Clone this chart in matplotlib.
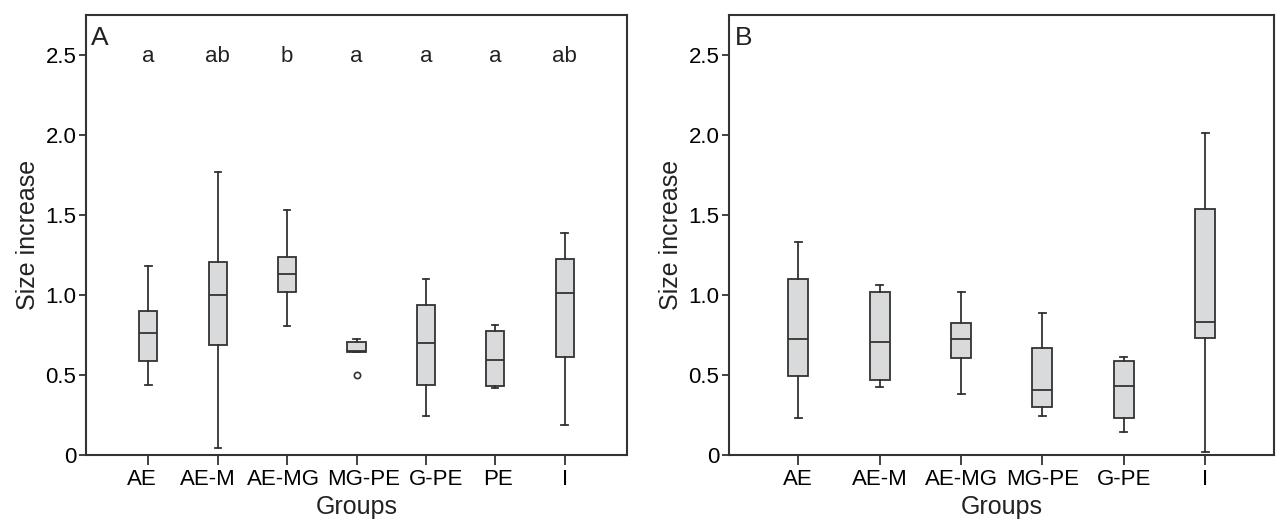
import matplotlib
matplotlib.use("Agg")
import matplotlib.pyplot as plt
import matplotlib.transforms as mtransforms

plt.rcParams['font.family'] = ['Liberation Sans', 'DejaVu Sans']

# panel A: whisker low, Q1, median, Q3, whisker high
groups_a = ["AE", "AE-M", "AE-MG", "MG-PE", "G-PE", "PE", "I"]
low_a = [0.44, 0.046, 0.806, 0.643, 0.247, 0.42, 0.186]
q1_a = [0.587, 0.688, 1.017, 0.643, 0.435, 0.43, 0.612]
med_a = [0.76, 1.0, 1.131, 0.65, 0.703, 0.597, 1.013]
q3_a = [0.90, 1.207, 1.236, 0.705, 0.937, 0.776, 1.228]
high_a = [1.18, 1.77, 1.534, 0.726, 1.103, 0.814, 1.39]
fliers_a = [[], [], [], [0.498], [], [], []]
letters_a = ["a", "ab", "b", "a", "a", "a", "ab"]

# panel B
groups_b = ["AE", "AE-M", "AE-MG", "MG-PE", "G-PE", "I"]
low_b = [0.23, 0.427, 0.382, 0.241, 0.146, 0.017]
q1_b = [0.496, 0.471, 0.604, 0.298, 0.23, 0.733]
med_b = [0.726, 0.707, 0.726, 0.408, 0.433, 0.834]
q3_b = [1.102, 1.02, 0.823, 0.669, 0.587, 1.537]
high_b = [1.33, 1.06, 1.02, 0.887, 0.612, 2.014]
fliers_b = [[], [], [], [], [], []]

yticks = [0, 0.5, 1.0, 1.5, 2.0, 2.5]
ytick_labels = ["0", "0.5", "1.0", "1.5", "2.0", "2.5"]

edge = "#333333"
fill = "#d9dadb"


def make_stats(low, q1, med, q3, high, fliers):
    stats = []
    for i in range(len(med)):
        stats.append({"whislo": low[i], "q1": q1[i], "med": med[i],
                      "q3": q3[i], "whishi": high[i], "fliers": fliers[i]})
    return stats


def draw_panel(ax, groups, stats, width, xlim, tag):
    pos = list(range(1, len(groups) + 1))
    ax.bxp(stats, positions=pos, widths=width, showfliers=True,
           patch_artist=True, capwidths=width * 0.35,
           boxprops=dict(facecolor=fill, edgecolor=edge, linewidth=1.3),
           medianprops=dict(color=edge, linewidth=1.3),
           whiskerprops=dict(color=edge, linewidth=1.3),
           capprops=dict(color=edge, linewidth=1.3),
           flierprops=dict(marker="o", markersize=4.5, markerfacecolor="white",
                           markeredgecolor=edge, markeredgewidth=1.2))
    ax.set_xlim(*xlim)
    ax.set_ylim(0, 2.75)
    ax.set_xticks(pos)
    ax.set_xticklabels(groups, fontsize=16)
    ax.set_yticks(yticks)
    ax.set_yticklabels(ytick_labels, fontsize=16)
    ax.tick_params(axis="x", length=7, width=1.3, color=edge, pad=3)
    ax.tick_params(axis="y", length=5, width=1.3, color=edge, pad=2)
    for s in ax.spines.values():
        s.set_color(edge)
        s.set_linewidth(1.5)
    ax.set_xlabel("Groups", fontsize=18, labelpad=4, color="#222222")
    ax.set_ylabel("Size increase", fontsize=18, labelpad=4, color="#222222")
    ax.text(0.01, 0.975, tag, transform=ax.transAxes, fontsize=19,
            va="top", ha="left", color="#222222")


fig = plt.figure(figsize=(12.76, 5.23), dpi=100)
ax1 = fig.add_axes([0.0674, 0.130, 0.424, 0.841])
ax2 = fig.add_axes([0.5713, 0.130, 0.4275, 0.841])

draw_panel(ax1, groups_a, make_stats(low_a, q1_a, med_a, q3_a, high_a, fliers_a),
           0.26, (0.1, 7.9), "A")
for i, lt in enumerate(letters_a):
    ax1.text(i + 1, 2.46, lt, ha="center", va="baseline", fontsize=16,
             color="#222222")

# the crowded labels of panel A are spread slightly apart, as in the original
shift_px = [-7, -10, -4, 7, 10, 3, 0]
for lab, dx in zip(ax1.get_xticklabels(), shift_px):
    lab.set_transform(lab.get_transform() +
                      mtransforms.ScaledTranslation(dx / 100, 0, fig.dpi_scale_trans))

draw_panel(ax2, groups_b, make_stats(low_b, q1_b, med_b, q3_b, high_b, fliers_b),
           0.245, (0.15, 6.85), "B")

fig.savefig("out.png", dpi=100)
